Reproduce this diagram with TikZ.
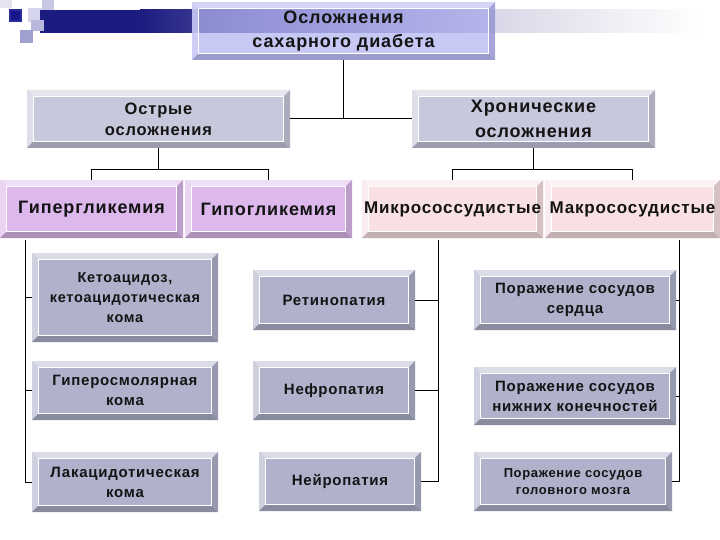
\documentclass[tikz,border=0pt]{standalone}
\usepackage{fontspec}
\setmainfont{Liberation Sans}[LetterSpace=5]
\definecolor{titleface}{HTML}{B0B0F0}
\definecolor{greyface}{HTML}{B0B2CC}
\definecolor{paleface}{HTML}{C8C8DC}
\definecolor{violetface}{HTML}{DCB8EC}
\definecolor{pinkface}{HTML}{F9E0E4}
\definecolor{barnavy}{HTML}{1C1C80}
\definecolor{barmid}{HTML}{C4C4E0}
\definecolor{barlight}{HTML}{D8D8E8}
\definecolor{inktext}{HTML}{141414}
\definecolor{decopale}{HTML}{E4E4F0}
\definecolor{decolav}{HTML}{C8C8E6}
\definecolor{decolight}{HTML}{D4D4EC}
\definecolor{decomid}{HTML}{B8B8DC}
\definecolor{decodeep}{HTML}{A0A0D0}
\definecolor{decoblue}{HTML}{2A2AA0}
\definecolor{decodark}{HTML}{16168A}
\newcommand\fsz[2]{\fontsize{#1pt}{#2pt}\selectfont\bfseries}
\tikzset{
  bev/.style={rectangle, fill=#1, inner xsep=0pt, inner ysep=2pt, align=center, text=inktext,
    path picture={
      \def\pb{path picture bounding box}
      \fill[#1!45!white] (\pb.north west) -- (\pb.north east) -- ([shift={(-6pt,-6pt)}]\pb.north east) -- ([shift={(6pt,-6pt)}]\pb.north west) -- cycle;
      \fill[#1!60!white] (\pb.north west) -- ([shift={(6pt,-6pt)}]\pb.north west) -- ([shift={(6pt,6pt)}]\pb.south west) -- (\pb.south west) -- cycle;
      \fill[#1!78!black] (\pb.south west) -- ([shift={(6pt,6pt)}]\pb.south west) -- ([shift={(-6pt,6pt)}]\pb.south east) -- (\pb.south east) -- cycle;
      \fill[#1!86!black] (\pb.south east) -- ([shift={(-6pt,6pt)}]\pb.south east) -- ([shift={(-6pt,-6pt)}]\pb.north east) -- (\pb.north east) -- cycle;
      \draw[white, line width=.8pt] ([shift={(6.5pt,-6.5pt)}]\pb.north west) rectangle ([shift={(-6.5pt,6.5pt)}]\pb.south east);
    }},
  boxdim/.style 2 args={minimum width=#1pt, minimum height=#2pt},
  bus/.style={line width=1pt, black}
}
\begin{document}
\begin{tikzpicture}[x=1pt, y=-1pt]
  \useasboundingbox (0,0) rectangle (720,540);
  % header decoration
  \fill[decopale] (0,0) rectangle (12,8);
  \fill[decolav] (42,0) rectangle (54,12);
  \fill[decolight] (28,8) rectangle (42,22);
  \fill[barnavy] (40,10) rectangle (140,33);
  \shade[left color=barnavy, right color=barmid] (140,10) rectangle (495,33);
  \shade[left color=barlight, right color=white] (495,10) rectangle (700,33);
  \fill[decomid] (31,20) rectangle (44,31);
  \fill[decodeep] (20,30) rectangle (33,43);
  \fill[decoblue] (9,9) rectangle (22,22);
  \fill[decodark] (11,11) rectangle (20,20);

  % boxes
  \node[bev=titleface, fill opacity=.7, text opacity=1, boxdim={303}{58}, font=\fsz{18}{24}] (title) at (343.5,31) {Осложнения\\сахарного диабета};
  \node[bev=paleface, boxdim={263}{58}, font=\fsz{16.5}{21}] (acute) at (158.5,119) {Острые\\осложнения};
  \node[bev=paleface, boxdim={243}{58}, font=\fsz{18}{25}] (chronic) at (533.5,119) {Хронические\\осложнения};

  \node[bev=violetface, boxdim={183}{58}, font=\fsz{18}{22}] (hyper) at (91.5,209) {Гипергликемия};
  \node[bev=violetface, boxdim={167}{58}, font=\fsz{18}{22}] (hypo) at (268.5,209) {Гипогликемия};
  \node[bev=pinkface, boxdim={181}{58}, font=\fsz{17}{22}] (micro) at (452.5,209) {Микрососсудистые};
  \node[bev=pinkface, boxdim={175}{58}, font=\fsz{17}{22}] (macro) at (632.5,209) {Макрососудистые};

  \node[bev=greyface, boxdim={186}{89}, font=\fsz{14.5}{20}] (keto) at (125,297.5) {Кетоацидоз,\\кетоацидотическая\\кома};
  \node[bev=greyface, boxdim={186}{59}, font=\fsz{15}{20}] (hyperosm) at (125,390.5) {Гиперосмолярная\\кома};
  \node[bev=greyface, boxdim={186}{60}, font=\fsz{15}{20}] (lact) at (125,482) {Лакацидотическая\\кома};

  \node[bev=greyface, boxdim={162}{60}, font=\fsz{15}{20}] (retino) at (334,300) {Ретинопатия};
  \node[bev=greyface, boxdim={162}{59}, font=\fsz{15}{20}] (nephro) at (334,390.5) {Нефропатия};
  \node[bev=greyface, boxdim={162}{59}, font=\fsz{15}{20}] (neuro) at (340,481.5) {Нейропатия};

  \node[bev=greyface, boxdim={202}{60}, font=\fsz{15}{20}] (heart) at (575,300) {Поражение сосудов\\сердца};
  \node[bev=greyface, boxdim={202}{58}, font=\fsz{15}{20}] (legs) at (575,396) {Поражение сосудов\\нижних конечностей};
  \node[bev=greyface, boxdim={198}{59}, font=\fsz{13}{17}] (brain) at (573,481.5) {Поражение сосудов\\головного мозга};

  % connectors
  \draw[bus] (title.south) -- (title.south |- acute.east);
  \draw[bus] (acute.east) -- (chronic.west);
  \draw[bus] (acute.south) -- ++(0,22);
  \draw[bus] (hyper.north) -- ++(0,-10) -| (hypo.north);
  \draw[bus] (chronic.south) -- ++(0,22);
  \draw[bus] (micro.north) -- ++(0,-10) -| (macro.north);

  \coordinate (hypbus) at (25,240);
  \draw[bus] (hypbus) |- (lact.west);
  \draw[bus] (keto.west -| hypbus) -- (keto.west);
  \draw[bus] (hyperosm.west -| hypbus) -- (hyperosm.west);

  \coordinate (microbus) at (438,240);
  \draw[bus] (microbus) |- (neuro.east);
  \draw[bus] (retino.east -| microbus) -- (retino.east);
  \draw[bus] (nephro.east -| microbus) -- (nephro.east);

  \coordinate (macrobus) at (679,240);
  \draw[bus] (macrobus) |- (brain.east);
  \draw[bus] (heart.east -| macrobus) -- (heart.east);
  \draw[bus] (legs.east -| macrobus) -- (legs.east);
\end{tikzpicture}
\end{document}
